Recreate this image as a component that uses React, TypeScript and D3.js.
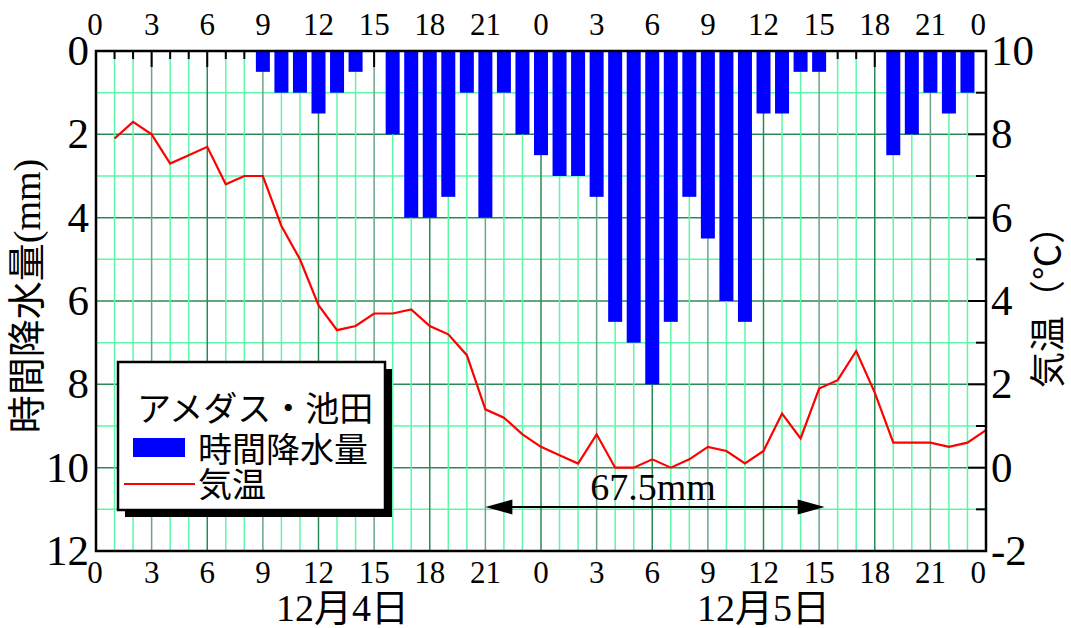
import React from "react";
import * as d3 from "d3";

// hours 1..48 (12/4 01:00 -> 12/6 00:00)
const hours = d3.range(1, 49);
const rainMm = [
  0, 0, 0, 0, 0, 0, 0, 0, 0.5, 1, 1, 1.5, 1, 0.5, 0, 2, 4, 4, 3.5, 1, 4, 1, 2, 2.5,
  3, 3, 3.5, 6.5, 7, 8, 6.5, 3.5, 4.5, 6, 6.5, 1.5, 1.5, 0.5, 0.5, 0, 0, 0, 2.5, 2, 1, 1.5, 1, 0,
];
const tempC = [
  7.9, 8.3, 8.0, 7.3, 7.5, 7.7, 6.8, 7.0, 7.0, 5.8, 5.0, 3.9, 3.3, 3.4, 3.7, 3.7, 3.8, 3.4, 3.2, 2.7, 1.4, 1.2, 0.8, 0.5,
  0.3, 0.1, 0.8, 0.0, 0.0, 0.2, 0.0, 0.2, 0.5, 0.4, 0.1, 0.4, 1.3, 0.7, 1.9, 2.1, 2.8, 1.8, 0.6, 0.6, 0.6, 0.5, 0.6, 0.9,
];
const hourTicks = d3.range(0, 49, 3);
const hourLabels = ["0", "3", "6", "9", "12", "15", "18", "21", "0", "3", "6", "9", "12", "15", "18", "21", "0"];
const rainTicks = [0, 2, 4, 6, 8, 10, 12];
const tempTicks = [10, 8, 6, 4, 2, 0, -2];
const dayLabels = [
  { hour: 13.3, text: "12月4日" },
  { hour: 36, text: "12月5日" },
];
const totalSpan = [21, 39.3];
const totalText = "67.5mm";

const serif = "'Liberation Serif', 'Times New Roman', serif";
const jp = "'Noto Sans CJK JP', sans-serif";
const mixed = "'Liberation Serif', 'Noto Sans CJK JP', serif";

const LIGHT = "#5cf8a8";
const DARK = "#2a8a55";
const GREY = "#6aa585";

export default function App() {
  const W = 1071, H = 628;
  const L = 96, R = 986, T = 51, B = 551;
  const x = d3.scaleLinear().domain([0, 48]).range([L, R]);
  const yP = d3.scaleLinear().domain([0, 12]).range([T, B]);
  const yT = d3.scaleLinear().domain([-2, 10]).range([B, T]);

  const line = d3
    .line<number>()
    .x((_, i) => x(hours[i]))
    .y((d) => yT(d));

  const barW = 14;
  const vColor = (h: number) => (h % 3 ? LIGHT : h % 6 ? GREY : DARK);

  return (
    <svg width={W} height={H} style={{ position: "absolute", left: 0, top: 0, background: "#fff" }}>
      {/* grid */}
      {d3.range(1, 12).map((m) => (
        <line key={"h" + m} x1={L} x2={R} y1={yP(m)} y2={yP(m)} stroke={m % 2 ? LIGHT : DARK} strokeWidth={1.5} />
      ))}
      {d3.range(1, 48).map((h) => (
        <line key={"v" + h} x1={x(h)} x2={x(h)} y1={T} y2={B} stroke={vColor(h)} strokeWidth={1.5} />
      ))}

      {/* top ticks */}
      {d3.range(1, 48).map((h) => (
        <line key={"t" + h} x1={x(h)} x2={x(h)} y1={T} y2={T + (h % 3 ? 8 : 16)} stroke="#000" strokeWidth={2} />
      ))}
      {/* right ticks */}
      {d3.range(-1, 10).map((t) => (
        <line key={"r" + t} x1={R - (t % 2 ? 10 : 18)} x2={R} y1={yT(t)} y2={yT(t)} stroke="#000" strokeWidth={2} />
      ))}

      {/* bars */}
      {rainMm.map((v, i) =>
        v > 0 ? (
          <rect key={"b" + i} x={x(hours[i]) - barW / 2} y={yP(0)} width={barW} height={yP(v) - yP(0)} fill="#0000ff" />
        ) : null
      )}

      {/* temperature */}
      <path d={line(tempC) || ""} fill="none" stroke="#ff0000" strokeWidth={2.2} strokeLinejoin="miter" />

      {/* frame */}
      <rect x={L} y={T} width={R - L} height={B - T} fill="none" stroke="#000" strokeWidth={2.5} />

      {/* left labels */}
      {rainTicks.map((m) => (
        <text key={"lp" + m} x={89} y={yP(m) + 14} textAnchor="end" fontFamily={serif} fontSize={43}>
          {m}
        </text>
      ))}
      {/* right labels */}
      {tempTicks.map((t) => (
        <text key={"rt" + t} x={991} y={yT(t) + 14} textAnchor="start" fontFamily={serif} fontSize={43}>
          {t}
        </text>
      ))}
      {/* hour labels top and bottom */}
      {hourTicks.map((h, i) => {
        const last = i === hourTicks.length - 1;
        const anchor = last ? "end" : "middle";
        const xx = last ? x(h) : x(h) - (i === 0 ? 1 : 0);
        return (
          <g key={"hl" + i}>
            <text x={xx} y={35} textAnchor={anchor} fontFamily={serif} fontSize={31}>
              {hourLabels[i]}
            </text>
            <text x={xx} y={583} textAnchor={anchor} fontFamily={serif} fontSize={31}>
              {hourLabels[i]}
            </text>
          </g>
        );
      })}
      {dayLabels.map((d) => (
        <text key={d.text} x={x(d.hour)} y={621} textAnchor="middle" fontFamily={mixed} fontSize={38}>
          {d.text}
        </text>
      ))}

      {/* axis titles */}
      <text transform="translate(40,296) rotate(-90)" textAnchor="middle" fontFamily={jp} fontSize={38}>
        時間降水量<tspan fontFamily={serif}>(mm)</tspan>
      </text>
      <text transform="translate(1061,298) rotate(-90)" textAnchor="middle" fontFamily={jp} fontSize={36}>
        気温（℃）
      </text>

      {/* total arrow */}
      <g>
        <line x1={x(totalSpan[0]) + 20} x2={x(totalSpan[1]) - 20} y1={507} y2={507} stroke="#000" strokeWidth={2} />
        <path
          d={`M${x(totalSpan[0])},507 L${x(totalSpan[0]) + 27},499.5 L${x(totalSpan[0]) + 27},514.5 Z`}
          fill="#000"
        />
        <path
          d={`M${x(totalSpan[1])},507 L${x(totalSpan[1]) - 27},499.5 L${x(totalSpan[1]) - 27},514.5 Z`}
          fill="#000"
        />
        <text x={653} y={500} textAnchor="middle" fontFamily={serif} fontSize={38}>
          {totalText}
        </text>
      </g>

      {/* legend */}
      <g>
        <rect x={125} y={369} width={267} height={148} fill="#000" />
        <rect x={118} y={362} width={267} height={148} fill="#fff" stroke="#000" strokeWidth={2.5} />
        <text x={137} y={421} fontFamily={jp} fontSize={34}>
          アメダス・池田
        </text>
        <rect x={133} y={438} width={52} height={19} fill="#0000ff" />
        <text x={198} y={462} fontFamily={jp} fontSize={34}>
          時間降水量
        </text>
        <line x1={124} x2={195} y1={484} y2={484} stroke="#ff0000" strokeWidth={2} />
        <text x={198} y={497} fontFamily={jp} fontSize={34}>
          気温
        </text>
      </g>
    </svg>
  );
}
